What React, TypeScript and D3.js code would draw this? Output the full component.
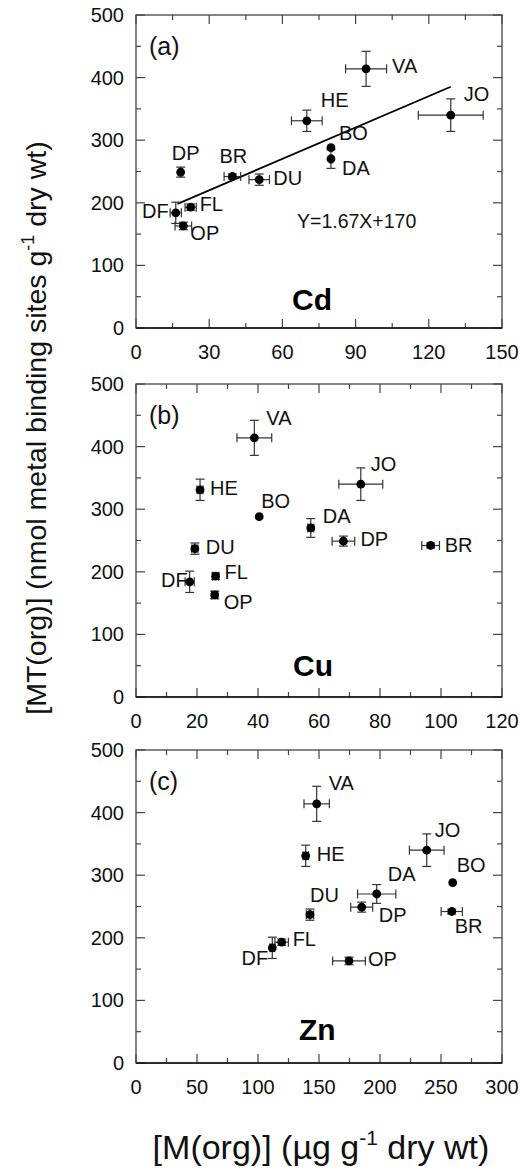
import React from 'react';
import * as d3 from 'd3';

// sites, in the same order for every array below
const SITES = ['DF', 'OP', 'FL', 'DP', 'BR', 'DU', 'HE', 'BO', 'DA', 'VA', 'JO'];

// [MT(org)] and its error, shared by all three panels
const MT = [184, 163, 193, 249, 242, 237, 331, 288, 270, 414, 340];
const MT_ERR = [17, 6, 5, 8, 4, 9, 17, 0, 15, 28, 26];

// [M(org)] per metal
const CD_X = [16.3, 19.4, 22.4, 18.3, 39.5, 50.5, 70, 79.9, 79.9, 94.3, 129];
const CD_XERR = [2.3, 3.4, 2.3, 0.5, 3.4, 4.2, 6.3, 0, 0.5, 8.4, 13.3];
const CU_X = [17.6, 25.8, 26.1, 68, 96.6, 19.3, 21, 40.4, 57.3, 38.8, 73.7];
const CU_XERR = [1.5, 1, 1, 3.7, 2.9, 1, 1, 0, 1, 5.7, 7.2];
const ZN_X = [111.7, 174.6, 119.4, 185, 258.8, 142.6, 139.1, 259.6, 197.3, 148.1, 238.3];
const ZN_XERR = [2, 13.4, 5.5, 9, 8.7, 3, 2.2, 0, 15.7, 10.4, 14.2];

// Cd regression
const FIT_SLOPE = 1.67;
const FIT_INTERCEPT = 170;
const FIT_RANGE = [17, 129];

const Y_TICKS = [0, 100, 200, 300, 400, 500];
const CD_TICKS = [0, 30, 60, 90, 120, 150];
const CU_TICKS = [0, 20, 40, 60, 80, 100, 120];
const ZN_TICKS = [0, 50, 100, 150, 200, 250, 300];

const FONT = "'Liberation Sans', Arial, Helvetica, sans-serif";
const X0 = 136;
const X1 = 502;
const PANEL_H = 313;
const MAJOR = 9;
const MINOR = 5;
const CAP = 4.5;
const FRAME = '#444';

// label placement [dx, dy, anchor] around each point, per panel
const LABELS_A = [[-7, 5, 'end'], [7, 14, 'start'], [9, 4, 'start'], [5, -12, 'middle'], [1, -14, 'middle'], [14, 5, 'start'], [14, -14, 'start'], [8, -8, 'start'], [11, 16, 'start'], [26, 4, 'start'], [13, -14, 'start']];
const LABELS_B = [[-2, 5, 'end'], [9, 14, 'start'], [9, 3, 'start'], [17, 5, 'start'], [14, 6, 'start'], [11, 5, 'start'], [10, 5, 'start'], [2, -9, 'start'], [12, -5, 'start'], [12, -13, 'start'], [10, -13, 'start']];
const LABELS_C = [[-4, 17, 'end'], [19, 5, 'start'], [11, 4, 'start'], [17, 15, 'start'], [3, 21, 'start'], [0, -13, 'start'], [11, 5, 'start'], [4, -11, 'start'], [11, -13, 'start'], [12, -14, 'start'], [8, -13, 'start']];

function minorTicks(ticks) {
  let out = [];
  for (let i = 0; i < ticks.length - 1; i++) out.push((ticks[i] + ticks[i + 1]) / 2);
  return out;
}

function Panel({ top, tag, metal, metalX, metalDy, xs, xerrs, xTicks, labels, fit }) {
  let bottom = top + PANEL_H;
  let x = d3.scaleLinear().domain([0, xTicks[xTicks.length - 1]]).range([X0, X1]);
  let y = d3.scaleLinear().domain([0, 500]).range([bottom, top]);
  let xMinor = minorTicks(xTicks);
  let yMinor = minorTicks(Y_TICKS);

  let tickLines = [];
  xTicks.concat(xMinor).forEach((t, i) => {
    let len = i < xTicks.length ? MAJOR : MINOR;
    tickLines.push(<line key={'xb' + i} x1={x(t)} x2={x(t)} y1={bottom} y2={bottom - len} />);
    tickLines.push(<line key={'xt' + i} x1={x(t)} x2={x(t)} y1={top} y2={top + len} />);
  });
  Y_TICKS.concat(yMinor).forEach((t, i) => {
    let len = i < Y_TICKS.length ? MAJOR : MINOR;
    tickLines.push(<line key={'yl' + i} x1={X0} x2={X0 + len} y1={y(t)} y2={y(t)} />);
    tickLines.push(<line key={'yr' + i} x1={X1} x2={X1 - len} y1={y(t)} y2={y(t)} />);
  });

  let line = d3.line().x(d => x(d[0])).y(d => y(d[1]));

  return <g>
    <g stroke={FRAME} strokeWidth={1.2}>{tickLines}</g>
    <rect x={X0} y={top} width={X1 - X0} height={PANEL_H} fill='none' stroke={FRAME} strokeWidth={1.3} />
    <line x1={X0} x2={X1} y1={bottom} y2={bottom} stroke='#111' strokeWidth={1.3} />
    <g fontFamily={FONT} fontSize={20} fill='#111'>
      {Y_TICKS.map(t => <text key={'yl' + t} x={X0 - 12} y={y(t)} dy='0.35em' textAnchor='end'>{t}</text>)}
      {xTicks.map(t => <text key={'xl' + t} x={x(t)} y={bottom + 31} textAnchor='middle'>{t}</text>)}
    </g>
    {fit ? <path d={line(FIT_RANGE.map(v => [v, FIT_SLOPE * v + FIT_INTERCEPT]))} fill='none' stroke='#000' strokeWidth={1.8} /> : null}
    <g stroke='#333' strokeWidth={1.2}>
      {xs.map((v, i) => {
        let cx = x(v), cy = y(MT[i]);
        let xl = x(v - xerrs[i]), xr = x(v + xerrs[i]);
        let yt = y(MT[i] + MT_ERR[i]), yb = y(MT[i] - MT_ERR[i]);
        return <g key={SITES[i]}>
          {xerrs[i] > 0 ? <g>
            <line x1={xl} x2={xr} y1={cy} y2={cy} />
            <line x1={xl} x2={xl} y1={cy - CAP} y2={cy + CAP} />
            <line x1={xr} x2={xr} y1={cy - CAP} y2={cy + CAP} />
          </g> : null}
          {MT_ERR[i] > 0 ? <g>
            <line x1={cx} x2={cx} y1={yt} y2={yb} />
            <line x1={cx - CAP} x2={cx + CAP} y1={yt} y2={yt} />
            <line x1={cx - CAP} x2={cx + CAP} y1={yb} y2={yb} />
          </g> : null}
        </g>;
      })}
    </g>
    <g fill='#000'>
      {xs.map((v, i) => <circle key={SITES[i]} cx={x(v)} cy={y(MT[i])} r={4.4} />)}
    </g>
    <g fontFamily={FONT} fontSize={20} fill='#111'>
      {xs.map((v, i) => <text key={SITES[i]} x={x(v) + labels[i][0]} y={y(MT[i]) + labels[i][1]} textAnchor={labels[i][2]}>{SITES[i]}</text>)}
    </g>
    <text x={149} y={top + 40} fontFamily={FONT} fontSize={25} fill='#111'>{tag}</text>
    <text x={metalX} y={bottom - metalDy} fontFamily={FONT} fontSize={30} fontWeight='bold' fill='#000'>{metal}</text>
    {fit ? <text x={297} y={y(FIT_INTERCEPT) + 6} fontFamily={FONT} fontSize={19.5} fill='#111'>Y={FIT_SLOPE}X+{FIT_INTERCEPT}</text> : null}
  </g>;
}

export default function App() {
  return <svg width={522} height={1169} style={{ position: 'absolute', left: 0, top: 0, background: '#fff' }}>
    <rect width={522} height={1169} fill='#fff' />
    <Panel top={15} tag='(a)' metal='Cd' metalX={292} metalDy={18} xs={CD_X} xerrs={CD_XERR} xTicks={CD_TICKS} labels={LABELS_A} fit />
    <Panel top={384} tag='(b)' metal='Cu' metalX={293} metalDy={21} xs={CU_X} xerrs={CU_XERR} xTicks={CU_TICKS} labels={LABELS_B} />
    <Panel top={750} tag='(c)' metal='Zn' metalX={299} metalDy={23} xs={ZN_X} xerrs={ZN_XERR} xTicks={ZN_TICKS} labels={LABELS_C} />
    <text transform='translate(46,428) rotate(-90)' textAnchor='middle' fontFamily={FONT} fontSize={28.5} fill='#111'>
      [MT(org)] (nmol metal binding sites g<tspan dy={-12} fontSize={18}>-1</tspan><tspan dy={12}> dry wt)</tspan>
    </text>
    <text x={321} y={1159} textAnchor='middle' fontFamily={FONT} fontSize={34} fill='#111'>
      [M(org)] (µg g<tspan dy={-14} fontSize={21}>-1</tspan><tspan dy={14}> dry wt)</tspan>
    </text>
  </svg>;
}
